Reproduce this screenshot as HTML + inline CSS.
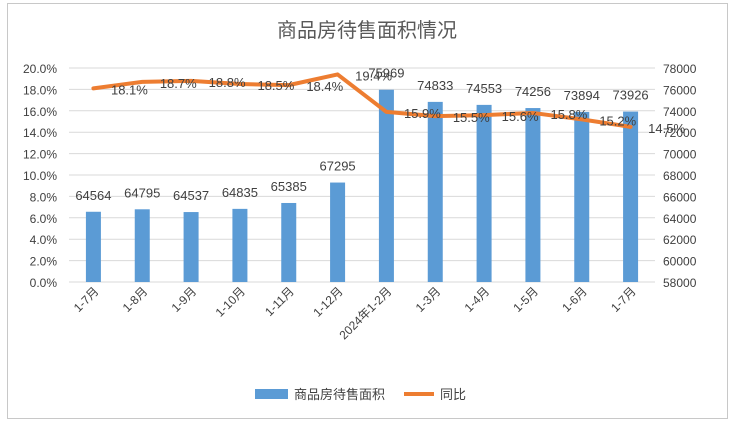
<!DOCTYPE html>
<html><head><meta charset="utf-8"><style>
body{margin:0;background:#fff}
svg text{font-family:"Liberation Sans","Noto Sans CJK SC",sans-serif;fill:#404040}
</style></head><body>
<svg id="c" width="734" height="423" xmlns="http://www.w3.org/2000/svg">
<rect x="7.5" y="3.5" width="720" height="415" fill="#fff" stroke="#c8c8c8"/>
<text x="367" y="37" text-anchor="middle" font-size="20" style="fill:#595959">商品房待售面积情况</text>
<g id="grid"></g><g id="bars"></g><g id="line"></g><g id="labels"></g>
<g>
<rect x="255" y="389" width="33" height="10" fill="#5b9bd5"/>
<text x="294" y="399" font-size="13">商品房待售面积</text>
<line x1="404" y1="394" x2="434" y2="394" stroke="#ed7d31" stroke-width="4"/>
<text x="440" y="399" font-size="13">同比</text>
</g>
</svg>
<script>
const categories=["1-7月","1-8月","1-9月","1-10月","1-11月","1-12月","2024年1-2月","1-3月","1-4月","1-5月","1-6月","1-7月"];
const areaValues=[64564,64795,64537,64835,65385,67295,75969,74833,74553,74256,73894,73926];
const yoyValues=[18.1,18.7,18.8,18.5,18.4,19.4,15.9,15.5,15.6,15.8,15.2,14.5];
const leftTicks=[0,2,4,6,8,10,12,14,16,18,20];
const rightTicks=[58000,60000,62000,64000,66000,68000,70000,72000,74000,76000,78000];
const NS="http://www.w3.org/2000/svg";
const x0=69,x1=655,yB=282,yT=68;
const step=(x1-x0)/categories.length;
const xC=i=>x0+step*(i+0.5);
const yL=v=>yB-(v-0)/20*(yB-yT);
const yR=v=>yB-(v-58000)/20000*(yB-yT);
function mk(tag,attrs,parent,txt){const e=document.createElementNS(NS,tag);for(const k in attrs)e.setAttribute(k,attrs[k]);if(txt!==undefined)e.textContent=txt;document.getElementById(parent).appendChild(e);return e;}
leftTicks.forEach(t=>{
 const l=mk('line',{x1:x0,x2:x1,y1:yL(t),y2:yL(t),stroke:'#d9d9d9','stroke-width':1},'grid');
 
 
 const tx=mk('text',{x:57,y:yL(t)+5,'text-anchor':'end','font-size':12},'grid',t.toFixed(1)+'%');
 
 
});
rightTicks.forEach(t=>{
 const tx=mk('text',{x:663,y:yR(t)+5,'font-size':12},'grid',String(t));
 
 
});
categories.forEach((c,i)=>{
 const cx=xC(i);
 const tx=mk('text',{x:cx+6,y:292,'text-anchor':'end','font-size':12,transform:`rotate(-45 ${cx+6} 292)`},'grid',c);
 
 
});
areaValues.forEach((v,i)=>{
 const y=yR(v);
 const r=mk('rect',{x:xC(i)-7.5,y:y,width:15,height:yB-y,fill:'#5b9bd5'},'bars');
 
 
 const t=mk('text',{x:xC(i),y:y-12,'text-anchor':'middle','font-size':13},'labels',String(v));
 
 
});
const pts=yoyValues.map((v,i)=>xC(i)+','+yL(v)).join(' ');
const pl=mk('polyline',{points:pts,fill:'none',stroke:'#ed7d31','stroke-width':4,'stroke-linejoin':'round','stroke-linecap':'round'},'line');


yoyValues.forEach((v,i)=>{
 const t=mk('text',{x:xC(i)+36,y:yL(v)+6,'text-anchor':'middle','font-size':13},'labels',v.toFixed(1)+'%');
 
 
});
</script>
</body></html>
